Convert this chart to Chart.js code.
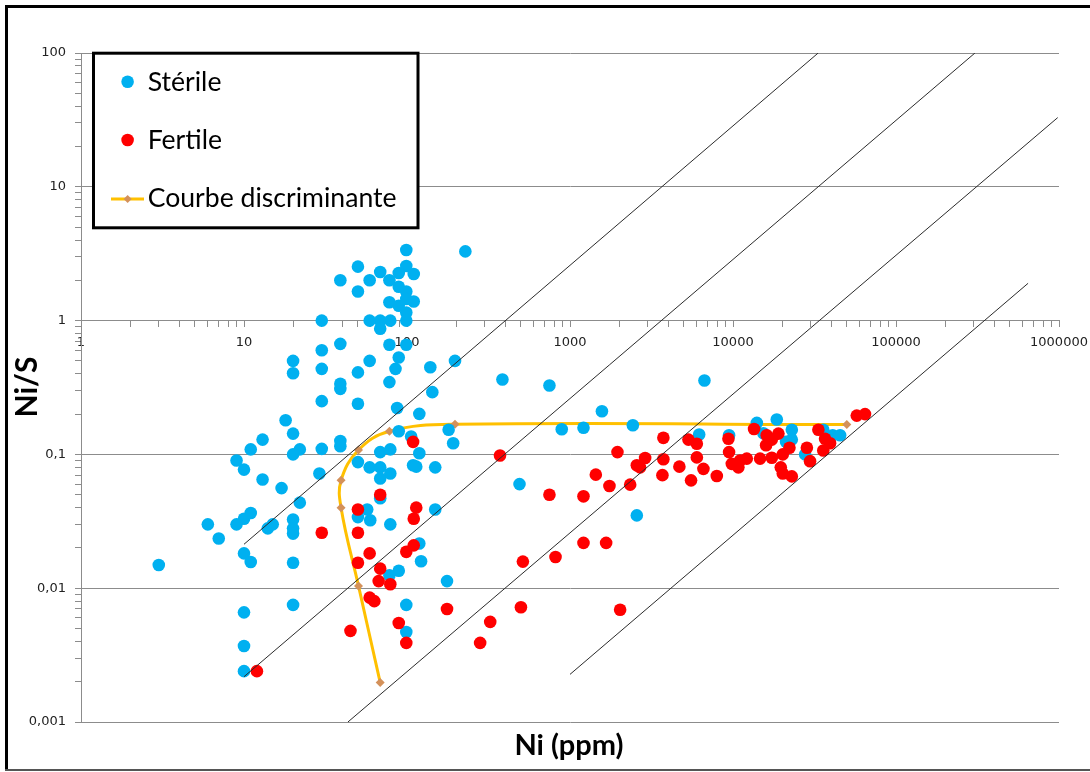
<!DOCTYPE html>
<html>
<head>
<meta charset="utf-8">
<script src="https://cdn.jsdelivr.net/npm/chart.js@4.4.1/dist/chart.umd.min.js"></script>
<style>
  html, body { margin: 0; padding: 0; background: #ffffff; }
  #wrap { position: relative; width: 1090px; height: 772px; }
  canvas { display: block; }
</style>
</head>
<body>
<div id="wrap"><canvas id="c" width="1090" height="772"></canvas></div>
<script>
// Stérile samples: Ni (ppm) and Ni/S
const sterileNi = [99,228,50,99,68.5,89,110,39,59,78,89,99,50,99,78,89,110,99,30,59,68.5,79,99,68.5,
  30,39,78,99,89,30,59,50,85,139,197,39,39,78,30,50,87,143,119,89,180,192,39,39,30,68.5,79,119,50,59,68.5,79,109,149,29,114,106,
  68.5,68.5,57,50,59.5,79,149,119,122,89,78,176,99,99,
  20,20,18,20,13,11,20,22,9,10,13,17,22,6,9,10,11,14,15,20,20,20,7,10,11,20,3,10,20,10,10,
  385,748,1570,890,1210,2430,490,2570,6680,14000,18560,6200,9460,15370,22950,22950,21170,35800,40900,45400,27700];
const sterileRatio = [3.37,3.29,2.53,2.56,2.31,2.27,2.23,2.0,2.0,2.0,1.79,1.65,1.65,1.45,1.37,1.29,1.39,1.15,1.0,1.0,1.0,1.0,1.0,0.87,
  0.60,0.67,0.66,0.66,0.53,0.436,0.50,0.41,0.436,0.448,0.50,0.337,0.309,0.347,0.25,0.239,0.222,0.292,0.201,0.149,0.153,0.121,0.126,0.115,0.110,0.104,0.109,0.102,0.0876,0.080,0.080,0.072,0.083,0.080,0.072,0.081,0.136,
  0.066,0.047,0.0387,0.034,0.0322,0.030,0.0387,0.0216,0.0159,0.0135,0.0125,0.0113,0.0075,0.0047,
  0.50,0.404,0.18,0.143,0.129,0.109,0.10,0.109,0.090,0.077,0.065,0.056,0.0436,0.030,0.030,0.033,0.0365,0.028,0.030,0.0326,0.028,0.0256,0.0235,0.0182,0.0157,0.0155,0.0149,0.0066,0.0075,0.0037,0.0024,
  0.363,0.327,0.21,0.154,0.158,0.165,0.060,0.035,0.357,0.172,0.1825,0.141,0.139,0.144,0.153,0.129,0.124,0.153,0.139,0.139,0.10];

// Fertile samples: Ni (ppm) and Ni/S
const fertileNi = [12,30,50,50,50,59,68.5,68.5,67,79,59,63,45,89,99,99,110,110,114,109,372,176,281,324,500,514,
  748,1210,1440,1746,1955,2340,2570,2690,2890,3740,3740,3690,1210,1666,815,2030,
  5330,6000,9375,13460,16100,19000,17300,15960,6000,9460,14660,17300,20200,22200,28400,33400,36700,39400,35800,29700,
  4690,6585,7955,5530,9830,11050,12150,10790,19640,20200,22950,57450,64570];
const fertileRatio = [0.0024,0.026,0.026,0.0387,0.0155,0.0182,0.050,0.014,0.0113,0.0107,0.0085,0.0080,0.0048,0.0055,0.0039,0.0187,0.0209,0.033,0.040,0.124,0.098,0.0070,0.0039,0.0056,0.0072,0.0158,
  0.050,0.0486,0.0706,0.058,0.104,0.0594,0.083,0.080,0.094,0.133,0.092,0.070,0.0218,0.0218,0.0171,0.0069,
  0.129,0.12,0.131,0.155,0.139,0.143,0.129,0.117,0.095,0.104,0.093,0.0945,0.10,0.112,0.112,0.153,0.131,0.121,0.107,0.089,
  0.081,0.078,0.069,0.064,0.085,0.090,0.093,0.080,0.080,0.072,0.0685,0.195,0.20];

// Discriminant curve nodes
const curveNi = [68.5, 50.4, 39.4, 39.4, 50.4, 78, 197, 49900];
const curveRatio = [0.00197, 0.0104, 0.040, 0.064, 0.108, 0.149, 0.168, 0.167];

// Constant-sulphur guide lines (start and end of each segment)
const guideNi = [[10, 33300], [10, 305000], [43.4, 982000], [1000, 646000]];
const guideRatio = [[0.0213, 100], [0.00218, 100], [0.001, 32.9], [0.00227, 1.9]];

// Axis labels
const xTickLabels = ['1', '10', '100', '1000', '10000', '100000', '1000000'];
const yTickLabels = ['0,001', '0,01', '0,1', '1', '10', '100'];
const legendLabels = ['Stérile', 'Fertile', 'Courbe discriminante'];
const xTitle = 'Ni (ppm)';
const yTitle = 'Ni/S';

const BLUE = '#00B0F0';
const RED = '#FF0000';
const GOLD = '#FFC000';
const DIAMOND = '#D4915A';
const GRID = '#8c8c8c';

const toPoints = (xs, ys) => xs.map((x, i) => ({ x: x, y: ys[i] }));

function logTicks(minExp, maxExp) {
  const out = [];
  for (let e = minExp; e < maxExp; e++) {
    for (let m = 1; m <= 9; m++) out.push({ value: m * Math.pow(10, e) });
  }
  out.push({ value: Math.pow(10, maxExp) });
  return out;
}
const isDecade = v => Math.abs(Math.log10(v) - Math.round(Math.log10(v))) < 1e-9;

const guideSets = guideNi.map((xs, i) => ({
  type: 'line',
  data: toPoints(xs, guideRatio[i]),
  borderColor: '#2b2b2b',
  borderWidth: 1,
  pointRadius: 0,
  showLine: true,
  tension: 0,
  order: 1
}));

const decor = {
  id: 'decor',
  beforeDraw(chart) {
    const ctx = chart.ctx;
    ctx.save();
    ctx.fillStyle = '#ffffff';
    ctx.fillRect(0, 0, chart.width, chart.height);
    ctx.restore();
  },
  afterDraw(chart) {
    const ctx = chart.ctx;
    ctx.save();
    // outer frame
    ctx.fillStyle = '#000000';
    ctx.fillRect(5, 5, chart.width - 5, 3);
    ctx.fillRect(5, 5, 3, 766);
    ctx.fillStyle = '#555555';
    ctx.fillRect(5, 769, chart.width - 5, 2);

    // legend box
    ctx.fillStyle = '#ffffff';
    ctx.fillRect(93, 53, 325, 175);
    ctx.lineWidth = 3;
    ctx.strokeStyle = '#000000';
    ctx.strokeRect(93.5, 53.2, 324.5, 174.6);

    const mx = 127.6;
    ctx.fillStyle = BLUE;
    ctx.beginPath(); ctx.arc(mx, 81.7, 6.3, 0, Math.PI * 2); ctx.fill();
    ctx.fillStyle = RED;
    ctx.beginPath(); ctx.arc(mx, 140, 6.3, 0, Math.PI * 2); ctx.fill();
    ctx.strokeStyle = GOLD;
    ctx.lineWidth = 3;
    ctx.beginPath(); ctx.moveTo(111, 199); ctx.lineTo(144, 199); ctx.stroke();
    ctx.fillStyle = DIAMOND;
    ctx.beginPath();
    ctx.moveTo(mx, 195); ctx.lineTo(mx + 4, 199); ctx.lineTo(mx, 203); ctx.lineTo(mx - 4, 199);
    ctx.closePath(); ctx.fill();

    ctx.fillStyle = '#000000';
    ctx.font = '26.6px Lato';
    ctx.textAlign = 'left';
    ctx.textBaseline = 'alphabetic';
    ctx.fillText(legendLabels[0], 147.7, 90.7);
    ctx.fillText(legendLabels[1], 147.7, 149);
    ctx.fillText(legendLabels[2], 147.7, 207.3);

    // axis titles
    ctx.font = 'bold 29px Lato';
    ctx.textAlign = 'center';
    ctx.fillText(xTitle, 569, 755);
    ctx.font = 'bold 30px Lato';
    ctx.translate(37, 387);
    ctx.rotate(-Math.PI / 2);
    ctx.fillText(yTitle, 0, 0);
    ctx.restore();
  }
};

new Chart(document.getElementById('c'), {
  type: 'scatter',
  data: {
    datasets: [
      {
        label: legendLabels[2],
        type: 'line',
        data: toPoints(curveNi, curveRatio),
        borderColor: GOLD,
        borderWidth: 3,
        tension: 0.4,
        pointStyle: 'rectRot',
        pointRadius: 4.5,
        pointBackgroundColor: DIAMOND,
        pointBorderWidth: 0,
        fill: false,
        order: 4
      },
      {
        label: legendLabels[0],
        data: toPoints(sterileNi, sterileRatio),
        backgroundColor: BLUE,
        borderWidth: 0,
        pointRadius: 6.3,
        order: 3
      },
      {
        label: legendLabels[1],
        data: toPoints(fertileNi, fertileRatio),
        backgroundColor: RED,
        borderWidth: 0,
        pointRadius: 6.3,
        order: 2
      },
      ...guideSets
    ]
  },
  options: {
    responsive: false,
    animation: false,
    devicePixelRatio: 1,
    layout: { padding: { left: 0, right: 31, top: 53, bottom: 50 } },
    plugins: { legend: { display: false }, tooltip: { enabled: false } },
    scales: {
      x: {
        type: 'logarithmic',
        min: 1,
        max: 1e6,
        position: { y: 1 },
        afterBuildTicks: s => { s.ticks = logTicks(0, 6); },
        afterFit: s => { s.paddingLeft = 0; s.paddingRight = 0; },
        ticks: {
          autoSkip: false,
          maxRotation: 0,
          padding: 8,
          color: '#222222',
          font: { family: 'DejaVu Sans', size: 13 },
          callback: v => isDecade(v) ? xTickLabels[Math.round(Math.log10(v))] : ''
        },
        grid: { drawOnChartArea: false, drawTicks: true, tickLength: 6, color: GRID },
        border: { display: true, color: GRID, width: 1 }
      },
      y: {
        type: 'logarithmic',
        min: 0.001,
        max: 100,
        position: 'left',
        afterFit: s => { s.width = 81; },
        afterBuildTicks: s => { s.ticks = logTicks(-3, 2); },
        ticks: {
          autoSkip: false,
          padding: 9,
          color: '#222222',
          font: { family: 'DejaVu Sans', size: 13 },
          callback: v => isDecade(v) ? yTickLabels[Math.round(Math.log10(v)) + 3] : ''
        },
        grid: {
          drawOnChartArea: true,
          drawTicks: true,
          tickLength: 6,
          color: c => (c.tick && isDecade(c.tick.value)) ? GRID : 'rgba(0,0,0,0)',
          tickColor: GRID
        },
        border: { display: true, color: GRID, width: 1 }
      }
    }
  },
  plugins: [decor]
});
</script>
</body>
</html>
